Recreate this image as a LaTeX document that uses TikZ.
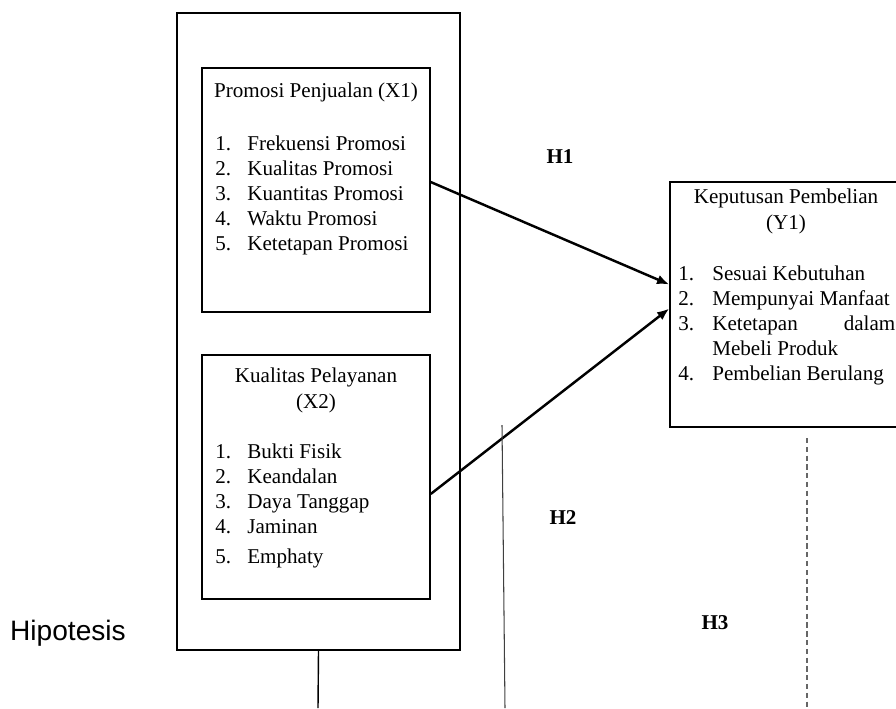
\documentclass[tikz,border=0pt]{standalone}
\usepackage{fontspec}
\setmainfont{Liberation Serif}
\newfontfamily\hipfont{Liberation Sans}
\usetikzlibrary{arrows.meta,calc,positioning}
\newcommand{\itm}[2][0.64cm]{\makebox[#1][l]{#2}}

\begin{document}
\begin{tikzpicture}[x=0.02cm,y=-0.02cm,
  box/.style={rectangle,draw,line width=0.8pt,minimum width=4.56cm,minimum height=4.88cm,inner sep=0pt},
  ttl/.style={font=\fontsize{12}{14.6}\selectfont,align=center,inner sep=0pt,anchor=north},
  lst/.style={font=\fontsize{12}{14.3}\selectfont,align=left,inner sep=0pt,anchor=north west},
  hyp/.style={font=\fontsize{12}{14}\selectfont\bfseries,inner sep=0pt}
]
  \useasboundingbox (0,0) rectangle (896,708);
  \node[box,minimum width=5.66cm,minimum height=12.74cm] (outer) at (318.5,331.5) {};
  \node[box] (x1) at (316,190) {};
  \node[box] (x2) at (316,477) {};
  \node[box,minimum height=4.9cm] (y1) at (784,304.5) {};

  \node[ttl] (x1t) at (316,82.5) {Promosi Penjualan (X1)};
  \node[lst] (x1l) at (215,135.5) {\itm{1.}Frekuensi Promosi\\ \itm{2.}Kualitas Promosi\\ \itm{3.}Kuantitas Promosi\\ \itm{4.}Waktu Promosi\\ \itm{5.}Ketetapan Promosi};
  \node[ttl] (x2t) at (316,367.5) {Kualitas Pelayanan\\(X2)};
  \node[lst] (x2l) at (215,443.5) {\itm{1.}Bukti Fisik\\ \itm{2.}Keandalan\\ \itm{3.}Daya Tanggap\\ \itm{4.}Jaminan\\[2.8pt] \itm{5.}Emphaty};
  \node[ttl] (y1t) at (786,188.5) {Keputusan Pembelian\\(Y1)};
  \node[lst] (y1l) at (678,265.5) {\itm[0.68cm]{1.}Sesuai Kebutuhan\\ \itm[0.68cm]{2.}Mempunyai Manfaat\\ \itm[0.68cm]{3.}\makebox[3.66cm][l]{Ketetapan\hfill dalam}\\ \itm[0.68cm]{}Mebeli Produk\\ \itm[0.68cm]{4.}Pembelian Berulang};

  \node[hyp] (h1) at (560,157) {H1};
  \node[hyp] (h2) at (563,518) {H2};
  \node[hyp] (h3) at (715,623) {H3};
  \node[font=\hipfont\fontsize{16}{18}\selectfont,inner sep=0pt] (hip) at (68,633) {Hipotesis};

  \draw[-{Latex[length=7pt,width=5.5pt]},line width=1.4pt] ($(x1.east)+(0,-8)$)--($(y1.west)+(0,-20)$);
  \draw[-{Latex[length=7pt,width=5.5pt]},line width=1.4pt] ($(x2.east)+(0,17)$)--($(y1.west)+(0,4)$);

  \coordinate (ob) at (318,708);
  \coordinate (vt) at (502,425);
  \coordinate (vb) at (505,708);
  \coordinate (dt) at (807,438);
  \coordinate (db) at (807,708);
  \draw[line width=0.8pt] (outer.south)--(ob);
  \draw[line width=0.6pt,black!75] (vt)--(vb);
  \draw[line width=0.7pt,black!60,dash pattern=on 3pt off 2pt] (dt)--(db);
\end{tikzpicture}
\end{document}
